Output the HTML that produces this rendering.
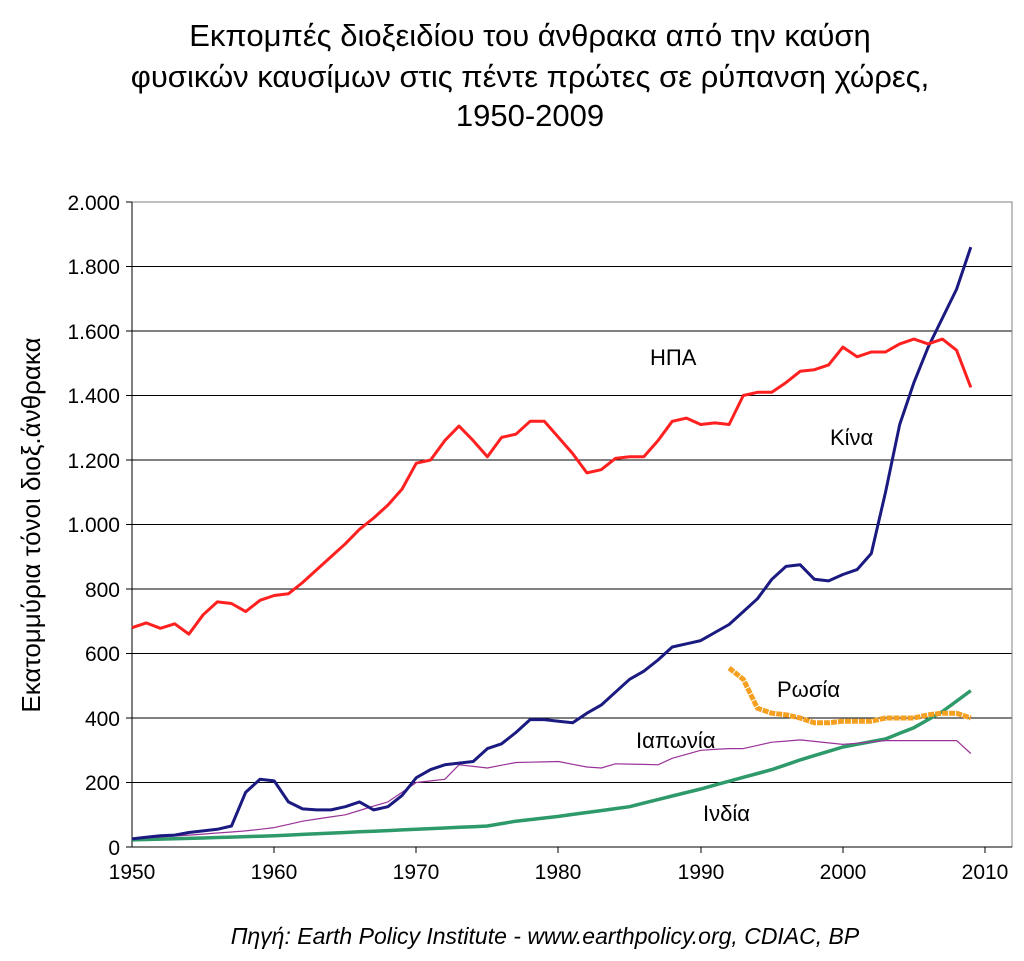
<!DOCTYPE html>
<html><head><meta charset="utf-8"><style>
body{margin:0;background:#fff;width:1024px;height:956px;overflow:hidden}
text{font-family:"Liberation Sans",sans-serif;fill:#000}
</style></head><body>
<svg width="1024" height="956" xmlns="http://www.w3.org/2000/svg">
<text x="530" y="46" font-size="31" text-anchor="middle">Εκπομπές διοξειδίου του άνθρακα από την καύση</text>
<text x="530" y="87" font-size="31" text-anchor="middle">φυσικών καυσίμων στις πέντε πρώτες σε ρύπανση χώρες,</text>
<text x="530" y="126" font-size="31" text-anchor="middle">1950-2009</text>
<g stroke="#000" stroke-width="1">
<line x1="132" y1="202" x2="1012" y2="202"/><line x1="132" y1="266.5" x2="1012" y2="266.5"/><line x1="132" y1="331" x2="1012" y2="331"/><line x1="132" y1="395.5" x2="1012" y2="395.5"/><line x1="132" y1="460" x2="1012" y2="460"/><line x1="132" y1="524.5" x2="1012" y2="524.5"/><line x1="132" y1="589" x2="1012" y2="589"/><line x1="132" y1="653.5" x2="1012" y2="653.5"/><line x1="132" y1="718" x2="1012" y2="718"/><line x1="132" y1="782.5" x2="1012" y2="782.5"/>
</g>
<rect x="132" y="202" width="880" height="645" fill="none" stroke="#808080" stroke-width="1"/>
<line x1="132" y1="847" x2="1012" y2="847" stroke="#000"/>
<line x1="132" y1="202" x2="132" y2="847" stroke="#000"/>
<g stroke="#000"><line x1="126" y1="202" x2="132" y2="202"/><line x1="126" y1="266.5" x2="132" y2="266.5"/><line x1="126" y1="331" x2="132" y2="331"/><line x1="126" y1="395.5" x2="132" y2="395.5"/><line x1="126" y1="460" x2="132" y2="460"/><line x1="126" y1="524.5" x2="132" y2="524.5"/><line x1="126" y1="589" x2="132" y2="589"/><line x1="126" y1="653.5" x2="132" y2="653.5"/><line x1="126" y1="718" x2="132" y2="718"/><line x1="126" y1="782.5" x2="132" y2="782.5"/><line x1="126" y1="847" x2="132" y2="847"/>
<line x1="274" y1="847" x2="274" y2="853"/><line x1="416" y1="847" x2="416" y2="853"/><line x1="558" y1="847" x2="558" y2="853"/><line x1="701" y1="847" x2="701" y2="853"/><line x1="843" y1="847" x2="843" y2="853"/><line x1="985" y1="847" x2="985" y2="853"/></g>
<g font-size="21" text-anchor="end">
<text x="120" y="210">2.000</text><text x="120" y="274">1.800</text><text x="120" y="339">1.600</text><text x="120" y="403">1.400</text><text x="120" y="468">1.200</text><text x="120" y="532">1.000</text><text x="120" y="597">800</text><text x="120" y="661">600</text><text x="120" y="726">400</text><text x="120" y="790">200</text><text x="120" y="855">0</text></g>
<g font-size="21" text-anchor="middle">
<text x="132" y="879">1950</text><text x="274" y="879">1960</text><text x="416" y="879">1970</text><text x="558" y="879">1980</text><text x="701" y="879">1990</text><text x="843" y="879">2000</text><text x="985" y="879">2010</text></g>
<text transform="translate(40,525) rotate(-90)" font-size="26" text-anchor="middle">Εκατομμύρια τόνοι διοξ.άνθρακα</text>
<text x="545" y="944" font-size="23" font-style="italic" text-anchor="middle">Πηγή:  Earth Policy Institute - www.earthpolicy.org, CDIAC, BP</text>
<g font-size="22"><text x="650" y="365">ΗΠΑ</text><text x="830" y="445">Κίνα</text><text x="777" y="697">Ρωσία</text><text x="636" y="748">Ιαπωνία</text><text x="703" y="821">Ινδία</text></g>
<g fill="none" stroke-linejoin="round" id="s"></g>
</svg>
<script>
const X=y=>132+(y-1950)*14.217,Y=v=>847-v*0.3225;
function pl(start,arr,col,w,dash){let p=arr.map((v,i)=>X(start+i).toFixed(1)+","+Y(v).toFixed(1)).join(" ");
let e=document.createElementNS("http://www.w3.org/2000/svg","polyline");e.setAttribute("points",p);e.setAttribute("stroke",col);e.setAttribute("stroke-width",w);if(dash)e.setAttribute("stroke-dasharray",dash);document.getElementById("s").appendChild(e);}
function interp(pts){let r=[];for(let i=0;i<pts.length-1;i++){let[a,va]=pts[i],[b,vb]=pts[i+1];for(let y=a;y<b;y++)r.push(va+(vb-va)*(y-a)/(b-a));}r.push(pts[pts.length-1][1]);return r;}
pl(1950,interp([[1950,22],[1955,28],[1960,35],[1965,45],[1970,55],[1975,65],[1977,80],[1980,95],[1985,125],[1990,180],[1995,240],[1997,270],[2000,310],[2003,335],[2005,370],[2007,420],[2009,485]]),"#2e9a6a",3.5);
pl(1950,interp([[1950,25],[1955,40],[1958,50],[1960,60],[1962,80],[1965,100],[1968,140],[1970,200],[1972,210],[1973,255],[1975,245],[1977,262],[1980,265],[1982,248],[1983,245],[1984,258],[1987,255],[1988,275],[1990,300],[1992,305],[1993,305],[1995,325],[1997,332],[2000,318],[2003,330],[2005,330],[2008,330],[2009,290]]),"#993399",1.2);
pl(1950,[25,30,35,37,45,50,55,65,170,210,205,140,118,115,115,125,140,115,125,160,215,240,255,260,265,305,320,355,395,395,390,385,415,440,480,520,545,580,620,630,640,665,690,730,770,830,870,875,830,825,845,860,910,1100,1310,1440,1550,1640,1730,1860],"#1a1a80",3);
pl(1950,[680,695,678,692,660,720,760,755,730,765,780,785,820,860,900,940,985,1020,1060,1110,1190,1200,1260,1305,1260,1210,1270,1280,1320,1320,1270,1220,1160,1170,1205,1210,1210,1260,1320,1330,1310,1315,1310,1400,1410,1410,1440,1475,1480,1495,1550,1520,1535,1535,1560,1575,1560,1575,1540,1425],"#ff2020",3);
pl(1992,[555,520,430,415,410,400,385,385,390,390,390,400,400,400,410,415,415,400],"#f5a020",5,"6 1");
</script>
</body></html>
